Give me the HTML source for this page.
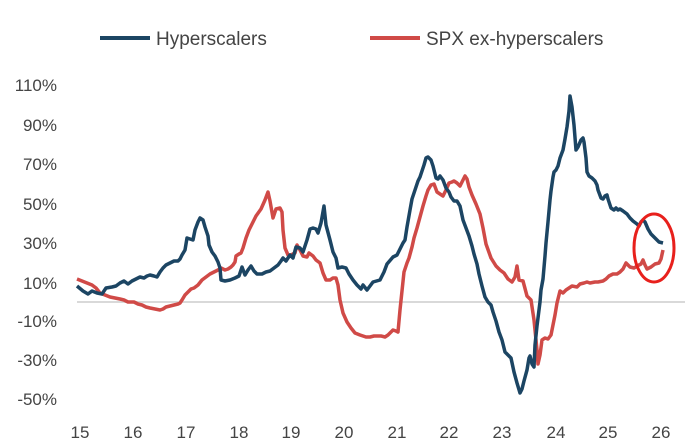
<!DOCTYPE html><html><head><style>body{margin:0;background:#fff}svg{display:block}text{font-family:"Liberation Sans",sans-serif;fill:#444}</style></head><body>
<svg width="697" height="448" viewBox="0 0 697 448">
<line x1="100" y1="38" x2="150" y2="38" stroke="#1c4563" stroke-width="4"/>
<text x="156" y="45" font-size="19">Hyperscalers</text>
<line x1="370" y1="38" x2="420" y2="38" stroke="#d04a47" stroke-width="4"/>
<text x="426" y="45" font-size="19">SPX ex-hyperscalers</text>
<g font-size="17" text-anchor="end">
<text x="57" y="91">110%</text><text x="57" y="131">90%</text><text x="57" y="170">70%</text><text x="57" y="210">50%</text><text x="57" y="249">30%</text><text x="57" y="289">10%</text><text x="57" y="327">-10%</text><text x="57" y="366">-30%</text><text x="57" y="405">-50%</text></g>
<g font-size="17" text-anchor="middle">
<text x="80" y="438">15</text><text x="133" y="438">16</text><text x="186" y="438">17</text><text x="239" y="438">18</text><text x="291" y="438">19</text><text x="344" y="438">20</text><text x="397" y="438">21</text><text x="449" y="438">22</text><text x="502" y="438">23</text><text x="556" y="438">24</text><text x="608" y="438">25</text><text x="661" y="438">26</text></g>
<line x1="77" y1="302" x2="685" y2="302" stroke="#d9d9d9" stroke-width="2"/>
<polyline fill="none" stroke="#d04a47" stroke-width="3.5" stroke-linejoin="round" points="77,279 82,281 87,283 92,285 96,288 100,293 105,295 110,297 115,298 120,299 124,300 128,302 134,302 138,304 142,305 146,307 150,308 155,309 160,310 163,309 166,307 170,306 174,305 178,304 180,303 182,300 185,295 188,292 191,289 194,288 198,285 202,280 206,277 210,274 214,272 218,270 221,268 225,270 228,269 231,267 233,265 235,262 236,256 239,254 241,253 243,248 246,238 249,230 253,222 256,216 261,209 265,200 268,192 270,201 273,218 276,209 280,208 282,212 283,230 285,248 288,255 291,255 295,253 297,245 300,250 303,256 307,257 309,253 313,256 316,260 320,263 323,273 326,280 330,280 333,278 336,278 338,285 340,300 343,313 347,322 351,328 355,333 360,335 363,336 366,337 370,337 374,336 377,336 381,336 385,337 388,335 390,333 393,330 396,331 398,332 400,310 404,272 407,263 409,258 412,247 414,238 417,228 420,217 423,206 426,196 428,190 431,185 434,184 437,192 440,194 443,196 446,190 449,183 452,182 454,181 457,183 460,186 462,182 465,176 467,179 469,187 472,195 476,204 480,214 483,228 486,244 491,258 496,266 500,270 504,273 508,279 512,282 515,277 517,266 519,280 523,281 527,296 531,300 534,320 537,350 538,364 540,355 542,340 545,338 548,339 551,335 553,325 555,315 557,303 560,291 563,293 566,290 569,288 572,286 577,287 580,284 584,283 587,282 590,283 595,282 598,282 603,281 606,279 609,276 613,274 617,274 620,272 623,269 626,263 630,267 634,268 639,265 641,264 643,260 645,265 647,269 651,267 655,264 659,263 661,259 663,250"/>
<polyline fill="none" stroke="#1c4563" stroke-width="3.5" stroke-linejoin="round" points="77,286 83,291 88,294 92,291 97,293 102,294 106,288 112,287 116,286 120,283 124,281 128,284 132,281 136,279 140,277 144,278 147,276 150,275 154,276 157,277 160,272 163,268 166,265 170,263 174,261 178,261 180,259 182,255 185,250 187,238 190,239 193,240 195,230 198,222 200,218 203,220 205,227 208,236 209,245 212,252 215,256 218,262 220,268 221,280 225,281 230,280 235,278 239,276 242,267 245,275 248,270 251,266 254,271 257,274 262,274 266,272 270,271 274,268 278,265 281,261 283,258 286,261 290,255 293,258 296,247 300,248 303,252 307,240 310,229 313,228 316,229 318,233 321,223 324,206 326,225 330,240 333,252 336,258 338,268 342,267 346,268 349,274 353,280 357,285 361,289 363,285 367,290 373,282 380,280 384,272 387,264 393,257 397,255 401,247 403,243 405,240 407,227 410,210 412,199 415,190 418,181 420,177 422,171 424,165 426,158 428,157 431,160 433,166 436,178 438,179 440,176 443,180 446,188 449,192 451,197 454,201 457,201 460,206 463,220 466,228 469,236 472,246 474,254 477,264 479,274 482,286 485,297 488,302 491,305 493,312 496,321 499,332 502,340 505,352 508,355 511,358 514,372 517,383 520,393 522,389 524,381 527,370 529,358 530,356 532,364 534,367 535,345 537,326 540,302 541,290 543,279 545,256 546,243 548,222 550,200 551,191 553,177 554,172 556,170 558,166 560,158 563,150 565,139 567,127 569,111 570,96 572,107 574,125 576,150 578,147 581,140 583,138 584,142 586,158 587,172 589,176 592,178 595,181 597,185 598,190 601,198 603,199 605,196 607,195 608,199 611,208 614,210 616,208 618,210 620,209 623,211 627,214 630,218 633,221 637,224 639,226 641,222 643,220 645,222 648,229 651,234 655,238 659,242 663,243"/>
<ellipse cx="654" cy="248" rx="20" ry="34" fill="none" stroke="#e8201c" stroke-width="3"/>
</svg></body></html>
